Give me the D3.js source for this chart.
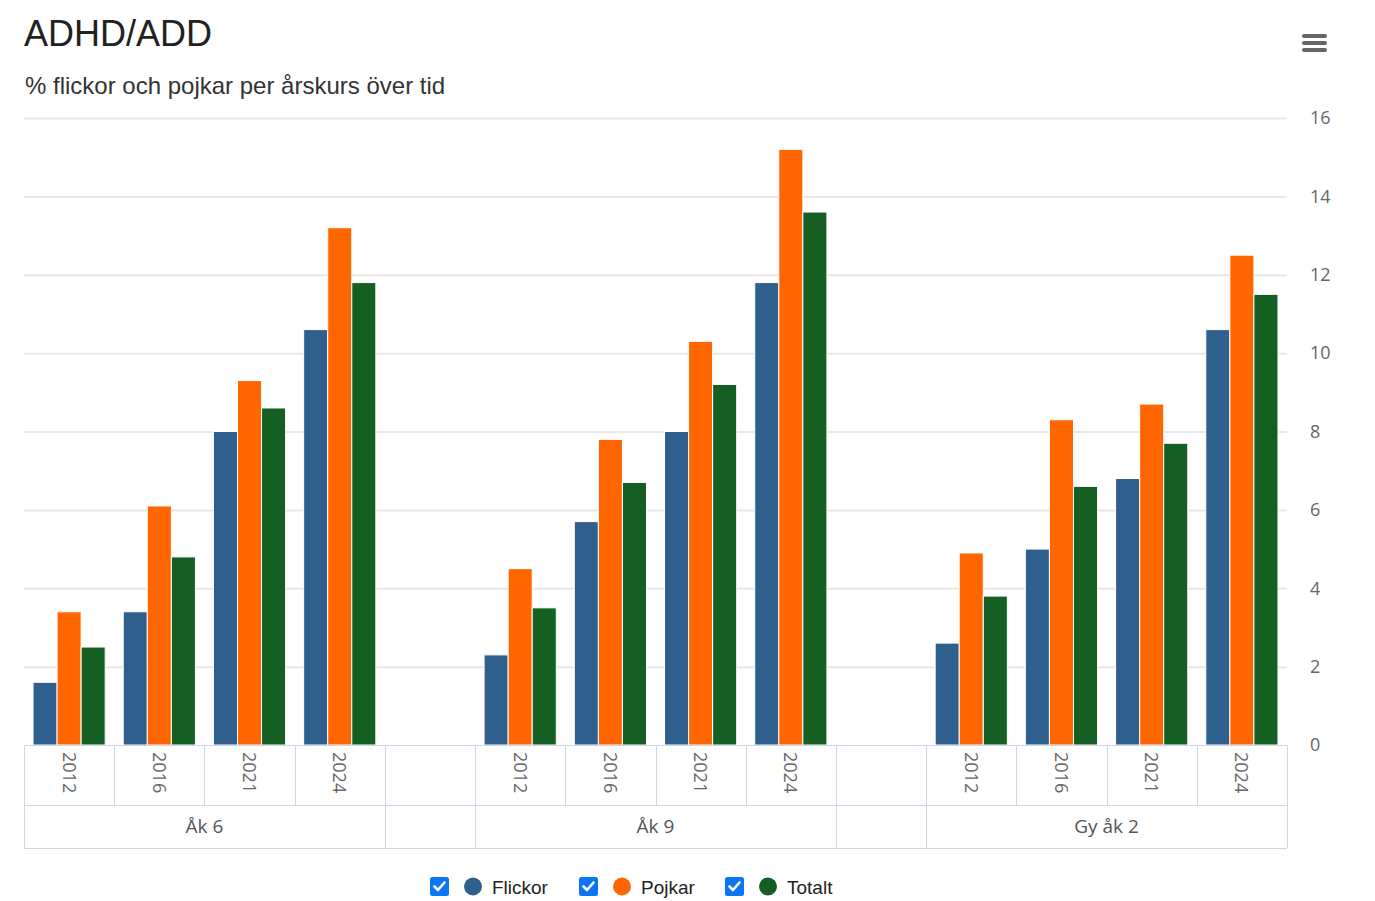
<!DOCTYPE html>
<html>
<head>
<meta charset="utf-8">
<script src="https://cdn.jsdelivr.net/npm/d3@7"></script>
<style>
    body { margin: 0; background: #fff; }
    svg { display: block; }
</style>
</head>
<body>
<div id="chart"></div>
<script>
// data
const groups = ["Åk 6", "Åk 9", "Gy åk 2"];
const years = ["2012", "2016", "2021", "2024"];
const seriesNames = ["Flickor", "Pojkar", "Totalt"];
const seriesColors = ["#2f5f8c", "#ff6600", "#155f23"];

// values per group, in year order
const flickor = [
    [1.6, 3.4, 8.0, 10.6],
    [2.3, 5.7, 8.0, 11.8],
    [2.6, 5.0, 6.8, 10.6]
];
const pojkar = [
    [3.4, 6.1, 9.3, 13.2],
    [4.5, 7.8, 10.3, 15.2],
    [4.9, 8.3, 8.7, 12.5]
];
const totalt = [
    [2.5, 4.8, 8.6, 11.8],
    [3.5, 6.7, 9.2, 13.6],
    [3.8, 6.6, 7.7, 11.5]
];
const yTicks = [0, 2, 4, 6, 8, 10, 12, 14, 16];

const W = 1375, H = 901;
const plot = { left: 24, right: 1287, top: 118, bottom: 745 };
const rowH1 = 60, rowH2 = 43;
const axisColor = "#ccd6eb";
const labelFont = "'Open Sans', 'DejaVu Sans', sans-serif";
const textFont = "'Liberation Sans', Arial, sans-serif";

// build category list, with an empty slot between groups
var categories = [];
groups.forEach((g, gi) => {
    if (gi > 0) categories.push({ key: "gap" + gi, year: "", group: null });
    years.forEach((y, yi) => {
        categories.push({
            key: g + "-" + y,
            year: y,
            group: gi,
            values: [flickor[gi][yi], pojkar[gi][yi], totalt[gi][yi]]
        });
    });
});

const svg = d3.select("#chart").append("svg")
    .attr("width", W)
    .attr("height", H)
    .attr("viewBox", [0, 0, W, H]);

// scales
const x = d3.scaleBand()
    .domain(categories.map(d => d.key))
    .range([plot.left, plot.right])
    .padding(0);
const bw = x.bandwidth();
const xSub = d3.scaleBand()
    .domain(seriesNames)
    .range([bw * 0.1, bw * 0.9])
    .padding(0);
const y = d3.scaleLinear()
    .domain([0, 16])
    .range([plot.bottom, plot.top]);

// title
svg.append("text")
    .attr("x", 24).attr("y", 46)
    .attr("font-family", textFont)
    .attr("font-size", 36)
    .attr("fill", "#222")
    .text("ADHD/ADD");

svg.append("text")
    .attr("x", 25).attr("y", 94)
    .attr("font-family", textFont)
    .attr("font-size", 24)
    .attr("fill", "#333")
    .text("% flickor och pojkar per årskurs över tid");

// menu icon
svg.append("g")
    .selectAll("line")
    .data([36, 43, 50])
    .join("line")
    .attr("x1", 1304).attr("x2", 1325)
    .attr("y1", d => d).attr("y2", d => d)
    .attr("stroke", "#666")
    .attr("stroke-width", 4)
    .attr("stroke-linecap", "round");

// grid + right axis
const yAxis = svg.append("g")
    .attr("transform", `translate(${plot.right},0)`)
    .call(d3.axisRight(y)
        .tickValues(yTicks)
        .tickSize(-(plot.right - plot.left))
        .tickPadding(23));
yAxis.select(".domain").remove();
yAxis.selectAll(".tick line")
    .attr("stroke", d => d === 0 ? axisColor : "#e8e8e8")
    .attr("stroke-width", d => d === 0 ? 1 : 2);
yAxis.selectAll(".tick text")
    .attr("font-family", labelFont)
    .attr("font-size", 18)
    .attr("fill", "#666");

// bars
const catG = svg.append("g")
    .selectAll("g")
    .data(categories.filter(d => d.group !== null))
    .join("g")
    .attr("transform", d => `translate(${x(d.key)},0)`);

catG.selectAll("rect")
    .data(d => d.values.map((v, i) => ({ series: seriesNames[i], value: v, color: seriesColors[i] })))
    .join("rect")
    .attr("x", d => xSub(d.series))
    .attr("y", d => y(d.value))
    .attr("width", xSub.bandwidth())
    .attr("height", d => y(0) - y(d.value))
    .attr("fill", d => d.color)
    .attr("stroke", "#fff")
    .attr("stroke-width", 1);

// grouped x axis
const xAxisG = svg.append("g");

// horizontal lines
xAxisG.selectAll("line.h")
    .data([plot.bottom, plot.bottom + rowH1, plot.bottom + rowH1 + rowH2])
    .join("line")
    .attr("class", "h")
    .attr("x1", plot.left).attr("x2", plot.right)
    .attr("y1", d => d + 0.5).attr("y2", d => d + 0.5)
    .attr("stroke", axisColor);

// year tick lines (first row)
xAxisG.selectAll("line.t")
    .data(categories.map(d => x(d.key)).concat([plot.right]))
    .join("line")
    .attr("class", "t")
    .attr("x1", d => Math.round(d) + 0.5).attr("x2", d => Math.round(d) + 0.5)
    .attr("y1", plot.bottom).attr("y2", plot.bottom + rowH1)
    .attr("stroke", axisColor);

// group tick lines (second row) — around groups and gaps
var groupEdges = [plot.left];
categories.forEach((d, i) => {
    const next = categories[i + 1];
    if (!next || (next.group !== d.group)) groupEdges.push(x(d.key) + bw);
});
xAxisG.selectAll("line.g")
    .data(groupEdges)
    .join("line")
    .attr("class", "g")
    .attr("x1", d => Math.round(d) + 0.5).attr("x2", d => Math.round(d) + 0.5)
    .attr("y1", plot.bottom + rowH1).attr("y2", plot.bottom + rowH1 + rowH2)
    .attr("stroke", axisColor);

// year labels, rotated
xAxisG.selectAll("text.year")
    .data(categories.filter(d => d.year))
    .join("text")
    .attr("class", "year")
    .attr("transform", d => `translate(${x(d.key) + bw / 2 - 6.5},${plot.bottom + 7}) rotate(90)`)
    .attr("font-family", labelFont)
    .attr("font-size", 18)
    .attr("fill", "#666")
    .attr("text-anchor", "start")
    .text(d => d.year);

// group labels
xAxisG.selectAll("text.group")
    .data(groups)
    .join("text")
    .attr("class", "group")
    .attr("x", (g, gi) => {
        const cats = categories.filter(d => d.group === gi);
        return (x(cats[0].key) + x(cats[cats.length - 1].key) + bw) / 2;
    })
    .attr("y", plot.bottom + rowH1 + 28)
    .attr("text-anchor", "middle")
    .attr("font-family", labelFont)
    .attr("font-size", 19)
    .attr("fill", "#555")
    .text(d => d);

// legend
const legendX = [430, 579, 725];
const legend = svg.append("g")
    .selectAll("g")
    .data(seriesNames)
    .join("g")
    .attr("transform", (d, i) => `translate(${legendX[i]},877)`);

legend.append("rect")
    .attr("width", 19).attr("height", 19)
    .attr("rx", 2.5)
    .attr("fill", "#0b75f5");
legend.append("path")
    .attr("d", "M4.5,9.5 L8,13 L14.5,5.5")
    .attr("fill", "none")
    .attr("stroke", "#fff")
    .attr("stroke-width", 2.6)
    .attr("stroke-linecap", "round")
    .attr("stroke-linejoin", "round");
legend.append("circle")
    .attr("cx", 43).attr("cy", 9.5)
    .attr("r", 9)
    .attr("fill", (d, i) => seriesColors[i]);
legend.append("text")
    .attr("x", 62).attr("y", 16.5)
    .attr("font-family", textFont)
    .attr("font-size", 19)
    .attr("fill", "#222")
    .text(d => d);
</script>
</body>
</html>
